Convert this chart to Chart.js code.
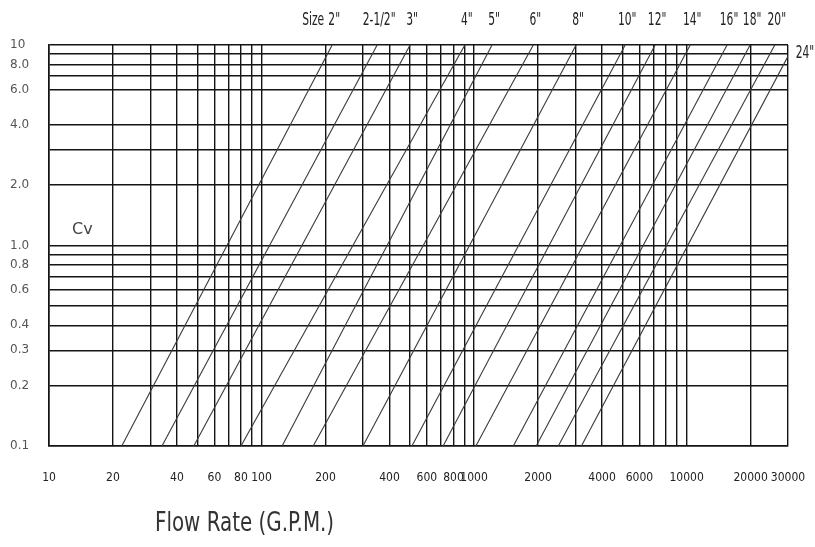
<!DOCTYPE html>
<html>
<head>
<meta charset="utf-8">
<script src="https://cdn.jsdelivr.net/npm/chart.js@4.4.1/dist/chart.umd.min.js"></script>
<style>
  html, body { margin: 0; padding: 0; background: #fff; }
  #wrap { width: 815px; height: 547px; }
</style>
</head>
<body>
<div id="wrap"><canvas id="chart"></canvas></div>
<script>
// valve sizes and where each Cv line meets the bottom (0.1) and top (10) of the grid
const sizeLabels = ['2"', '2-1/2"', '3"', '4"', '5"', '6"', '8"', '10"', '12"', '14"', '16"', '18"', '20"', '24"'];
const flowAtBottom = [22, 34, 48, 80, 125, 175, 300, 510, 715, 1020, 1530, 1960, 2490, 3200];
const flowAtTop = [215, 350, 500, 905, 1215, 1900, 3020, 5140, 7110, 10400, 15500, 19900, 26000, 32000];
const yBottom = 0.1;
const yTop = 10;

// grid lines and which of them carry a label
const xGrid = [10, 20, 30, 40, 50, 60, 70, 80, 90,
  100, 200, 300, 400, 500, 600, 700, 800, 900,
  1000, 2000, 3000, 4000, 5000, 6000, 7000, 8000, 9000,
  10000, 20000, 30000];
const xLabels = [10, 20, 40, 60, 80, 100, 200, 400, 600, 800, 1000, 2000, 4000, 6000, 10000, 20000, 30000];
const yGrid = [0.1, 0.2, 0.3, 0.4, 0.5, 0.6, 0.7, 0.8, 0.9, 1, 2, 3, 4, 6, 7, 8, 9, 10];
const yLabelValues = [0.1, 0.2, 0.3, 0.4, 0.6, 0.8, 1, 2, 4, 6, 8, 10];
const yLabelText = ['0.1', '0.2', '0.3', '0.4', '0.6', '0.8', '1.0', '2.0', '4.0', '6.0', '8.0', '10'];

const NARROW = '"Liberation Sans Narrow", "DejaVu Sans Condensed", sans-serif';

function narrowText(ctx, text, x, y, size, align, sx) {
  ctx.save();
  ctx.font = size + 'px ' + NARROW;
  ctx.textAlign = align;
  ctx.textBaseline = 'middle';
  ctx.translate(x, y);
  ctx.scale(sx, 1);
  ctx.fillText(text, 0, 0);
  ctx.restore();
}

const labelsPlugin = {
  id: 'cadLabels',
  afterDraw(chart) {
    const ctx = chart.ctx;
    const xs = chart.scales.x;
    const ys = chart.scales.y;
    const area = chart.chartArea;
    ctx.save();
    ctx.fillStyle = '#222';

    sizeLabels.forEach((lab, i) => {
      const top = flowAtTop[i];
      if (top <= xs.max) {
        const px = xs.getPixelForValue(top) + 2;
        narrowText(ctx, lab, px, 21, 17, 'center', 0.7);
        if (i === 0) narrowText(ctx, 'Size', px - 10, 21, 17, 'right', 0.7);
      } else {
        // line leaves through the right edge: label sits beside the exit point
        const lb = Math.log10(flowAtBottom[i]);
        const lt = Math.log10(top);
        const f = (Math.log10(xs.max) - lb) / (lt - lb);
        const yv = Math.pow(10, Math.log10(yBottom) + f * (Math.log10(yTop) - Math.log10(yBottom)));
        narrowText(ctx, lab, area.right + 17, ys.getPixelForValue(yv) - 3, 17, 'center', 0.7);
      }
    });

    ctx.fillStyle = '#444';
    ctx.font = '16px "DejaVu Sans", sans-serif';
    ctx.textAlign = 'left';
    ctx.textBaseline = 'middle';
    ctx.fillText('Cv', 72, 230);

    ctx.fillStyle = '#333';
    narrowText(ctx, 'Flow Rate (G.P.M.)', 155, 524, 26, 'left', 0.85);
    ctx.restore();
  }
};

const datasets = sizeLabels.map((lab, i) => ({
  label: lab,
  data: [{ x: flowAtBottom[i], y: yBottom }, { x: flowAtTop[i], y: yTop }],
  borderColor: '#3a3a3a',
  borderWidth: 1.1,
  pointRadius: 0,
  tension: 0,
  fill: false
}));

new Chart(document.getElementById('chart').getContext('2d'), {
  type: 'line',
  data: { datasets },
  plugins: [labelsPlugin],
  options: {
    responsive: true,
    maintainAspectRatio: false,
    animation: false,
    devicePixelRatio: 1,
    layout: { padding: { left: 10, top: 45, right: 27, bottom: 0 } },
    plugins: {
      legend: { display: false },
      tooltip: { enabled: false }
    },
    scales: {
      x: {
        type: 'logarithmic',
        min: 10,
        max: 30000,
        afterBuildTicks: (scale) => { scale.ticks = xGrid.map(v => ({ value: v })); },
        afterFit: (scale) => {
          scale.height = 101;
          scale.paddingLeft = 0;
          scale.paddingRight = 0;
        },
        grid: { color: '#141414', lineWidth: 1.4, drawTicks: false },
        border: { display: true, color: '#141414', width: 1.6 },
        ticks: {
          autoSkip: false,
          maxRotation: 0,
          padding: 25,
          color: '#222',
          font: { family: NARROW, size: 12 },
          callback: (v) => xLabels.includes(v) ? String(v) : ''
        }
      },
      y: {
        type: 'logarithmic',
        min: 0.1,
        max: 10,
        afterBuildTicks: (scale) => { scale.ticks = yGrid.map(v => ({ value: v })); },
        afterFit: (scale) => { scale.width = 39; },
        grid: { color: '#141414', lineWidth: 1.4, drawTicks: false },
        border: { display: true, color: '#141414', width: 1.6 },
        ticks: {
          autoSkip: false,
          crossAlign: 'far',
          color: '#555',
          font: { family: '"DejaVu Sans", sans-serif', size: 12 },
          callback: (v) => {
            const k = yLabelValues.findIndex(l => Math.abs(l - v) < 1e-9);
            return k >= 0 ? yLabelText[k] : '';
          }
        }
      }
    }
  }
});
</script>
</body>
</html>
